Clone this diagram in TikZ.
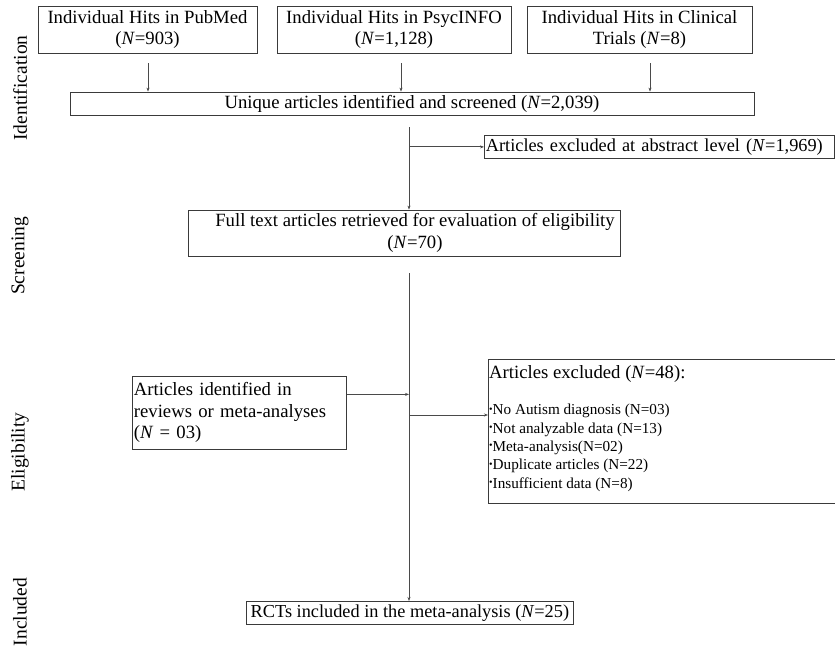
\documentclass[tikz,border=0pt]{standalone}
\usepackage{fontspec}
\setmainfont{Liberation Serif}
\usetikzlibrary{arrows.meta}
\definecolor{boxc}{HTML}{3A3A3A}
\definecolor{linec}{HTML}{4A4A4A}
\begin{document}
\begin{tikzpicture}[x=1pt,y=-1pt,
  box/.style={draw=boxc, line width=0.8pt, inner sep=0pt, font=\fontsize{18.7}{21.5}\selectfont, align=center},
  lbox/.style={box, align=left, inner xsep=1.5pt},
  arr/.style={draw=linec, line width=0.8pt, -{Stealth[length=4pt,width=3pt]}},
  phase/.style={rotate=90, font=\fontsize{19.5}{24}\selectfont},
  itemtxt/.style={align=left, inner sep=0pt, font=\fontsize{15.2}{18.3}\selectfont}]
\useasboundingbox (0,0) rectangle (835,650);
\newcommand{\smallbul}{\raisebox{2.5pt}{\fontsize{10}{10}\selectfont •}}
% phase labels
\node[phase] (pid) at (20,88) {Identification};
\node[phase] (psc) at (20,256) {Screening};
\node[phase] (pel) at (20,452) {Eligibility};
\node[phase] (pin) at (20,612) {Included};
% top boxes
\node[box, minimum width=219pt, minimum height=47pt] (pub) at (147.5,29.5) {Individual Hits in PubMed\\(\textit{N}=903)};
\node[box, minimum width=234pt, minimum height=47pt] (psy) at (394,29.5) {Individual Hits in PsycINFO\\(\textit{N}=1,128)};
\node[box, minimum width=225pt, minimum height=47pt] (cli) at (639.5,29.5) {Individual Hits in Clinical\\Trials (\textit{N}=8)};
\node[box, minimum width=684pt, minimum height=23pt] (uniq) at (412,103.5) {Unique articles identified and screened (\textit{N}=2,039)};
\node[lbox, anchor=north west, text width=347pt, minimum height=23pt, font=\fontsize{18.3}{21.5}\selectfont] (abs) at (484,135) {Articles excluded at abstract level (\textit{N}=1,969)};
\node[box, minimum width=432pt, minimum height=46pt] (full) at (404,233) {\hspace*{22pt}Full text articles retrieved for evaluation of eligibility\\\hspace*{22pt}(\textit{N}=70)};
\node[lbox, anchor=north west, text width=211pt, minimum height=73pt] (rev) at (132,376) {Articles identified in\\reviews or meta-analyses\\(\textit{N} = 03)};
\node[box, anchor=north west, minimum width=348pt, minimum height=144pt] (exc) at (488,359) {};
\node[anchor=base west, inner sep=0pt, font=\fontsize{18.7}{21.5}\selectfont] (exch) at (489,378) {Articles excluded (\textit{N}=48):};
\node[itemtxt, anchor=base west] (excl) at (489,488) {\smallbul No Autism diagnosis (N=03)\\\smallbul Not analyzable data (N=13)\\\smallbul Meta-analysis(N=02)\\\smallbul Duplicate articles (N=22)\\\smallbul Insufficient data (N=8)};
\node[box, anchor=north west, minimum width=327pt, minimum height=23pt, inner xsep=1pt, font=\fontsize{18.3}{21.5}\selectfont] (rct) at (246,601) {RCTs included in the meta-analysis (\textit{N}=25)};
% spine
\coordinate (spine) at (409,0);
\coordinate (b2) at (409,415);
% connectors
\draw[arr, shorten <=10pt] ([xshift=0.5pt]pub.south) -- ([xshift=0.5pt]pub.south |- uniq.north);
\draw[arr, shorten <=10pt] ([xshift=7pt]psy.south) -- ([xshift=7pt]psy.south |- uniq.north);
\draw[arr, shorten <=10pt] ([xshift=10.5pt]cli.south) -- ([xshift=10.5pt]cli.south |- uniq.north);
\draw[arr, shorten <=12pt] (uniq.south -| spine) -- (full.north -| spine);
\draw[arr] (spine |- abs.west) -- (abs.west);
\draw[arr, shorten <=17pt] (full.south -| spine) -- (rct.north -| spine);
\draw[arr] ([yshift=18.5pt]rev.east) -- ([yshift=18.5pt]rev.east -| spine);
\draw[arr] (b2) -- (b2 -| exc.west);
\end{tikzpicture}
\end{document}
